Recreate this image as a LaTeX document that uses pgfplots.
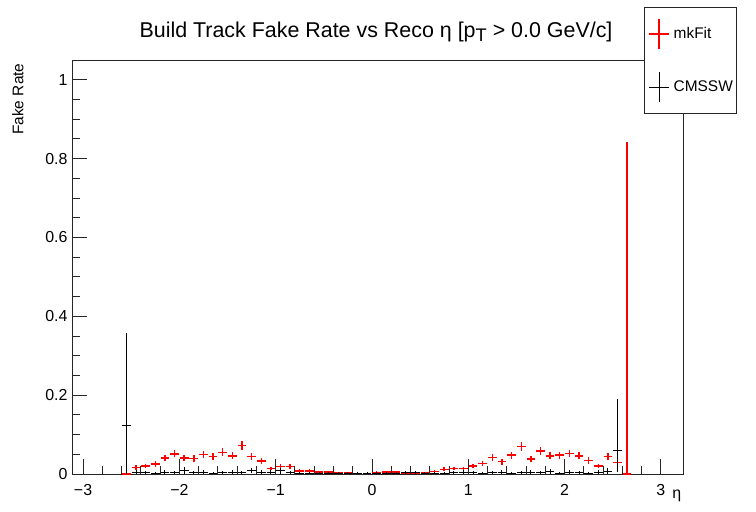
\documentclass[border=0pt]{standalone}
\usepackage{fontspec}
\setmainfont{Liberation Sans}
\usepackage{pgfplots}
\pgfplotsset{compat=1.18}
\usepackage{pgfplotstable}

% fake rate per eta bin (bin width 0.1): value, upper error, lower error
\pgfplotstableread{
x y ep em
-2.55 0 0 0
-2.45 0.017 0.006 0.006
-2.35 0.020 0.006 0.006
-2.25 0.025 0.007 0.007
-2.15 0.041 0.008 0.008
-2.05 0.051 0.009 0.009
-1.95 0.041 0.008 0.008
-1.85 0.039 0.008 0.008
-1.75 0.049 0.009 0.009
-1.65 0.045 0.009 0.009
-1.55 0.055 0.010 0.010
-1.45 0.046 0.009 0.009
-1.35 0.073 0.011 0.011
-1.25 0.045 0.009 0.009
-1.15 0.033 0.008 0.008
-1.05 0.014 0.005 0.005
-0.95 0.019 0.006 0.006
-0.85 0.019 0.006 0.006
-0.75 0.008 0.004 0.004
-0.65 0.008 0.004 0.004
-0.55 0.005 0.003 0.003
-0.45 0.005 0.003 0.003
-0.35 0.003 0.002 0.002
-0.25 0.003 0.002 0.002
-0.15 0.002 0.002 0.002
-0.05 0.001 0.001 0.001
0.05 0.004 0.003 0.003
0.15 0.005 0.003 0.003
0.25 0.005 0.003 0.003
0.35 0.002 0.002 0.002
0.45 0.002 0.002 0.002
0.55 0.003 0.002 0.002
0.65 0.007 0.004 0.004
0.75 0.012 0.005 0.005
0.85 0.014 0.005 0.005
0.95 0.014 0.005 0.005
1.05 0.020 0.006 0.006
1.15 0.027 0.007 0.007
1.25 0.042 0.008 0.008
1.35 0.031 0.007 0.007
1.45 0.048 0.009 0.009
1.55 0.069 0.011 0.011
1.65 0.038 0.008 0.008
1.75 0.058 0.010 0.010
1.85 0.046 0.009 0.009
1.95 0.048 0.009 0.009
2.05 0.052 0.009 0.009
2.15 0.046 0.009 0.009
2.25 0.034 0.008 0.008
2.35 0.020 0.006 0.006
2.45 0.044 0.009 0.009
2.55 0.029 0.008 0.008
2.65 0 0.841 0
}\mkfit

\pgfplotstableread{
x y ep em
-2.55 0.123 0.234 0.123
-2.45 0.004 0.006 0.004
-2.35 0.003 0.005 0.003
-2.25 0.002 0.004 0.002
-2.15 0.004 0.006 0.004
-2.05 0.003 0.005 0.003
-1.95 0.009 0.008 0.008
-1.85 0.003 0.005 0.003
-1.75 0.004 0.005 0.004
-1.65 0.002 0.004 0.002
-1.55 0.003 0.005 0.003
-1.45 0.004 0.006 0.004
-1.35 0.003 0.005 0.003
-1.25 0.009 0.007 0.007
-1.15 0.004 0.006 0.004
-1.05 0.005 0.006 0.005
-0.95 0.008 0.007 0.007
-0.85 0.003 0.005 0.003
-0.75 0.002 0.004 0.002
-0.65 0.001 0.003 0.001
-0.55 0.002 0.004 0.002
-0.45 0.001 0.003 0.001
-0.35 0.002 0.004 0.002
-0.25 0.001 0.003 0.001
-0.15 0.001 0.003 0.001
-0.05 0.001 0.003 0.001
0.05 0.001 0.003 0.001
0.15 0.002 0.004 0.002
0.25 0.001 0.003 0.001
0.35 0.003 0.004 0.003
0.45 0.003 0.004 0.003
0.55 0.002 0.004 0.002
0.65 0.001 0.003 0.001
0.75 0.002 0.004 0.002
0.85 0.003 0.005 0.003
0.95 0.004 0.006 0.004
1.05 0.003 0.005 0.003
1.15 0.002 0.004 0.002
1.25 0.003 0.005 0.003
1.35 0.004 0.006 0.004
1.45 0.002 0.004 0.002
1.55 0.003 0.005 0.003
1.65 0.004 0.006 0.004
1.75 0.003 0.005 0.003
1.85 0.006 0.006 0.006
1.95 0.002 0.004 0.002
2.05 0.004 0.006 0.004
2.15 0.003 0.005 0.003
2.25 0.002 0.004 0.002
2.35 0.005 0.006 0.005
2.45 0.007 0.007 0.007
2.55 0.059 0.131 0.055
}\cmssw

\definecolor{rootred}{rgb}{1,0,0}

% one histogram drawn ROOT-style: a horizontal bar across the bin and a vertical error bar
\pgfplotsset{
  vbar/.style={mark=none, forget plot,
    quiver={u=0, v=\thisrow{ep}+\thisrow{em}}},
  hbar/.style={mark=none, forget plot,
    quiver={u=0.09, v=0}},
}

\begin{document}
\begin{tikzpicture}
\useasboundingbox (0,0) rectangle (756bp,512bp);
\begin{axis}[
  at={(72bp,38bp)}, anchor=south west,
  width=611bp, height=414bp, scale only axis,
  xmin=-3.115, xmax=3.23, ymin=0, ymax=1.05,
  clip=false,
  xtick={-3,-2,-1,0,1,2,3},
  xticklabels={−3,−2,−1,0,1,2,3},
  ytick={0,0.2,0.4,0.6,0.8,1},
  yticklabels={0,0.2,0.4,0.6,0.8,1},
  minor x tick num=4, minor y tick num=3,
  tick align=inside, xtick pos=lower, ytick pos=left,
  major tick length=15bp, minor tick length=8bp,
  axis line style={line width=0.9bp, black!85},
  tick style={line width=0.9bp, black!85},
  ticklabel style={font=\fontsize{16}{16}\selectfont},
  xticklabel style={yshift=-7bp},
  yticklabel style={xshift=-1bp},
  xlabel={η},
  xlabel style={at={(axis description cs:0.99,-0.03)}, anchor=north, font=\fontsize{16}{16}\selectfont},
  ylabel={Fake Rate},
  ylabel style={at={(axis description cs:-0.0737,1)}, anchor=south east, font=\fontsize{15.5}{16}\selectfont},
  legend style={at={(0.9362,1.128)}, anchor=north west, draw=black!85, line width=0.9bp,
    fill=white, inner xsep=4bp, inner ysep=11bp, row sep=22bp, column sep=4bp,
    nodes={inner sep=0pt, font=\fontsize{15.5}{16}\selectfont}},
  legend cell align=left,
]
\addlegendimage{legend image code/.code={\draw[rootred, line width=1.2bp] (0bp,0bp) -- (20bp,0bp) (10bp,-15bp) -- (10bp,15bp);}}
\addlegendentry{mkFit\hspace{70bp}}
\addlegendimage{legend image code/.code={\draw[black, line width=1bp] (0bp,0bp) -- (20bp,0bp) (10bp,-15bp) -- (10bp,15bp);}}
\addlegendentry{CMSSW\hspace{70bp}}

% mkFit
\addplot[rootred, line width=1.4bp, vbar] table[x=x, y expr=\thisrow{y}-\thisrow{em}] {\mkfit};
\addplot[rootred, line width=1.4bp, hbar] table[x expr=\thisrow{x}-0.045, y=y] {\mkfit};
% CMSSW
\addplot[black, line width=1bp, vbar] table[x=x, y expr=\thisrow{y}-\thisrow{em}] {\cmssw};
\addplot[black, line width=1bp, hbar] table[x expr=\thisrow{x}-0.045, y=y] {\cmssw};
\end{axis}
\node[anchor=base, font=\fontsize{21.5}{22}\selectfont] at (376bp,474bp)
  {Build Track Fake Rate vs Reco η [p\raisebox{-0.16em}{\fontsize{18.3}{19}\selectfont T} > 0.0 GeV/c]};
\end{tikzpicture}
\end{document}
